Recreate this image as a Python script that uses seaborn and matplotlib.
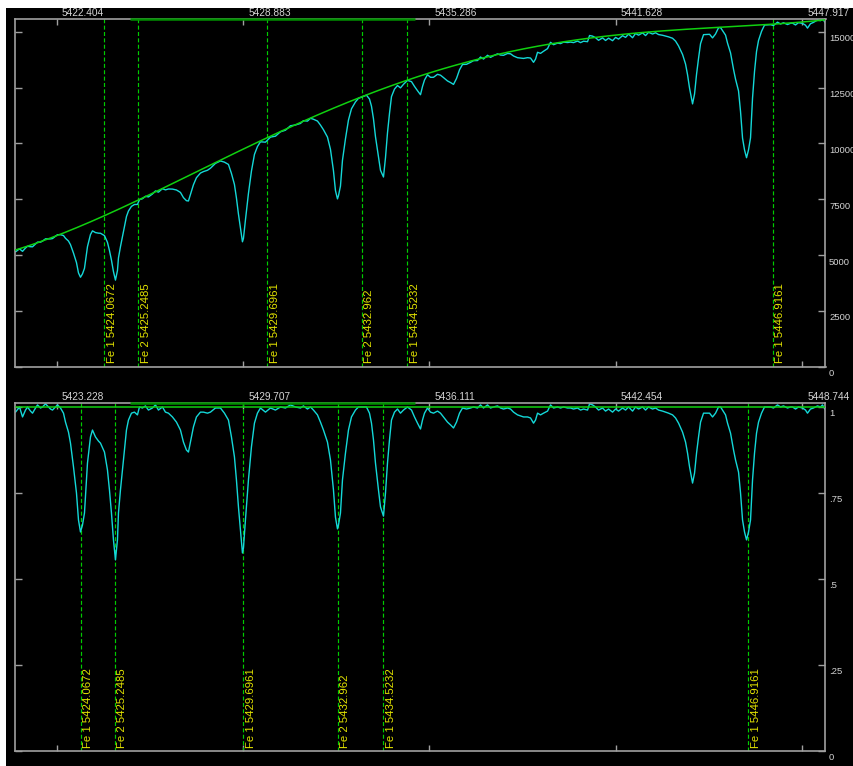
import numpy as np
import pandas as pd
import matplotlib
matplotlib.use("Agg")
import matplotlib.pyplot as plt
import matplotlib.transforms as mtransforms
from matplotlib.patches import Rectangle
from matplotlib.ticker import NullLocator
import seaborn as sns

# ---------------------------------------------------------------- data
# wavelength labels at equally spaced detector columns (dispersion solution)
tick_pixels = [56, 243, 429, 615, 802]
tick_labels_obs = ["5422.404", "5428.883", "5435.286", "5441.628", "5447.917"]
tick_labels_rv = ["5423.228", "5429.707", "5436.111", "5442.454", "5448.744"]

# spectrum: detector column and continuum-normalised flux
pixels = [
    15, 19, 22, 25, 27, 30, 32, 35, 37, 40, 42, 45, 47, 50, 52, 55, 57, 60, 63, 65,
    68, 70, 73, 76, 78, 80, 82, 84, 87, 90, 92, 95, 98, 100, 104, 107, 109, 111, 113, 115,
    117, 118, 120, 123, 126, 128, 131, 134, 137, 139, 142, 145, 148, 152, 155, 158, 162, 165, 168, 172,
    176, 180, 183, 186, 188, 190, 193, 196, 200, 203, 207, 210, 215, 220, 224, 228, 231, 234, 236, 238,
    240, 242, 243, 245, 248, 251, 254, 257, 260, 265, 270, 275, 280, 285, 290, 295, 300, 303, 307, 310,
    313, 317, 320, 323, 327, 330, 333, 335, 337, 338, 340, 342, 345, 348, 351, 355, 358, 362, 366, 369,
    371, 373, 375, 378, 380, 383, 385, 387, 389, 391, 394, 397, 400, 403, 407, 411, 414, 417, 420, 422,
    424, 427, 430, 433, 437, 440, 443, 447, 450, 453, 456, 459, 462, 466, 470, 473, 477, 480, 483, 487,
    490, 493, 497, 500, 503, 507, 510, 513, 517, 520, 523, 527, 530, 533, 535, 537, 540, 543, 547, 550,
    553, 557, 560, 563, 567, 570, 573, 577, 580, 583, 587, 589, 592, 595, 598, 602, 605, 608, 612, 615,
    618, 622, 625, 628, 632, 635, 638, 642, 645, 648, 652, 655, 658, 662, 665, 668, 672, 675, 678, 682,
    685, 687, 689, 691, 692, 694, 696, 698, 700, 703, 706, 709, 712, 715, 718, 720, 722, 725, 727, 730,
    733, 735, 738, 740, 742, 744, 746, 748, 750, 752, 754, 756, 758, 761, 764, 767, 770, 773, 777, 780,
    783, 787, 790, 792, 795, 798, 802, 805, 807, 810, 813, 817, 820, 822, 825,
]
norm_flux = [
    0.984, 0.999, 0.970, 0.990, 0.999, 0.987, 0.981, 0.996, 1.005, 0.996, 0.999, 1.008, 1.002, 0.993, 0.990, 0.999, 1.005, 0.996, 0.981, 0.955,
    0.926, 0.894, 0.825, 0.749, 0.671, 0.636, 0.656, 0.691, 0.836, 0.912, 0.932, 0.912, 0.900, 0.894, 0.868, 0.816, 0.758, 0.691, 0.613, 0.555,
    0.613, 0.691, 0.758, 0.845, 0.932, 0.961, 0.981, 0.984, 0.976, 0.999, 0.996, 1.002, 0.990, 0.996, 1.005, 0.990, 0.999, 0.984, 0.981, 0.970,
    0.955, 0.932, 0.897, 0.874, 0.868, 0.897, 0.941, 0.970, 0.984, 0.984, 0.981, 0.984, 0.996, 0.996, 0.981, 0.961, 0.912, 0.854, 0.787, 0.709,
    0.642, 0.575, 0.589, 0.671, 0.787, 0.883, 0.952, 0.981, 0.996, 0.984, 0.996, 0.990, 0.999, 0.996, 1.005, 0.999, 0.996, 1.002, 0.993, 0.999,
    0.990, 0.976, 0.955, 0.932, 0.897, 0.845, 0.758, 0.679, 0.645, 0.656, 0.691, 0.787, 0.865, 0.932, 0.970, 0.990, 0.999, 0.999, 0.999, 0.981,
    0.952, 0.903, 0.836, 0.758, 0.709, 0.682, 0.749, 0.836, 0.903, 0.961, 0.984, 0.993, 0.981, 0.990, 0.999, 0.990, 0.970, 0.952, 0.935, 0.961,
    0.981, 0.996, 0.984, 0.981, 0.987, 0.981, 0.970, 0.955, 0.947, 0.938, 0.955, 0.981, 0.996, 0.993, 0.996, 0.999, 0.996, 1.005, 0.996, 1.005,
    0.996, 0.999, 1.002, 0.996, 0.993, 0.996, 0.993, 0.984, 0.976, 0.973, 0.970, 0.970, 0.967, 0.952, 0.961, 0.981, 0.976, 0.981, 0.987, 1.005,
    0.996, 0.999, 0.996, 0.999, 0.996, 0.996, 0.993, 0.996, 0.990, 0.993, 0.990, 1.008, 1.005, 0.999, 0.990, 0.996, 0.987, 0.993, 0.984, 0.993,
    0.987, 0.996, 0.990, 0.999, 0.987, 0.999, 0.993, 0.999, 0.990, 0.999, 0.993, 0.996, 0.990, 0.987, 0.984, 0.981, 0.976, 0.967, 0.952, 0.926,
    0.897, 0.865, 0.825, 0.793, 0.778, 0.807, 0.865, 0.912, 0.955, 0.981, 0.981, 0.981, 0.970, 0.981, 0.999, 0.999, 0.990, 0.976, 0.952, 0.923,
    0.874, 0.845, 0.810, 0.749, 0.671, 0.636, 0.613, 0.636, 0.671, 0.787, 0.865, 0.923, 0.955, 0.981, 0.999, 0.999, 0.999, 0.996, 1.005, 0.999,
    1.002, 0.996, 0.999, 0.999, 0.993, 0.999, 0.996, 0.990, 0.981, 0.993, 0.996, 1.002, 0.999, 1.005, 0.990,
]

# continuum level (counts) measured along the detector
cont_pixels = [15, 60, 104, 137, 200, 265, 313, 347, 380, 413, 447,
               480, 513, 547, 580, 627, 660, 693, 727, 760, 793, 825]
cont_counts = [5207, 5969, 6777, 7451, 8797, 10144, 11266, 11804, 12388, 12971, 13420,
               13869, 14183, 14408, 14587, 14856, 14991, 15171, 15260, 15350, 15440, 15485]

# identified lines
line_species = ["Fe 1", "Fe 2", "Fe 1", "Fe 2", "Fe 1", "Fe 1"]
line_wavelengths = ["5424.0672", "5425.2485", "5429.6961", "5432.962", "5434.5232", "5446.9161"]

# detector window marked along the top axis
window_pixels = [130, 415]

flux_ticks = [0, 2500, 5000, 7500, 10000, 12500, 15000]
flux_tick_labels = ["0", "2500", "5000", "7500", "10000", "12500", "15000"]
norm_ticks = [0, 0.25, 0.5, 0.75, 1.0]
norm_tick_labels = ["0", ".25", ".5", ".75", "1"]
flux_top = 15575
norm_top = 1.0105

# ---------------------------------------------------------------- style
W, H, DPI = 854, 766, 100
sns.set_style("dark", rc={"axes.facecolor": "black", "figure.facecolor": "white"})
plt.rcParams["font.family"] = ["Liberation Sans", "DejaVu Sans"]

SPINE = "#a0a0a0"
TICKTXT = "#d4d4d4"
CYAN = "#14d8d8"
GREEN = "#10d010"
MARK = "#00cc00"
YELLOW = "#e4e400"

pix = np.array(pixels, dtype=float)
norm = np.array(norm_flux)
cont_fit = np.polyfit(np.array(cont_pixels) / 1000.0, cont_counts, 4)
continuum = np.polyval(cont_fit, pix / 1000.0)
counts = norm * continuum


def dispersion(labels):
    lam = np.array([float(s) for s in labels])
    p2l = np.polyfit(tick_pixels, lam, 2)
    l2p = np.polyfit(lam, tick_pixels, 2)
    return lam, (lambda x: np.polyval(l2p, x)), (lambda p: np.polyval(p2l, p))


fig = plt.figure(figsize=(W / DPI, H / DPI), dpi=DPI)
fig.patches.append(Rectangle((6 / W, 0), 1 - 6 / W, 1 - 8 / H, transform=fig.transFigure,
                             facecolor="black", edgecolor="none", zorder=-5))

ax_top = fig.add_axes([15.5 / W, 1 - 366.7 / H, 810 / W, 347.7 / H])
ax_bot = fig.add_axes([15.5 / W, 1 - 751 / H, 810 / W, 348 / H])


def offset(dx, dy):
    return mtransforms.ScaledTranslation(dx / DPI, dy / DPI, fig.dpi_scale_trans)


def panel(ax, labels, yvals, cont_vals, yticks, ylabels, ytop):
    lam_ticks, to_pix, to_lam = dispersion(labels)
    ax.set_xscale("function", functions=(to_pix, to_lam))
    wl = to_lam(pix)
    df = pd.DataFrame({"wavelength": wl, "flux": yvals, "continuum": cont_vals})

    for w in line_wavelengths:
        ax.axvline(float(w), color=MARK, lw=0.85, linestyle=(0, (3.4, 2.0)), zorder=1)

    sns.lineplot(data=df, x="wavelength", y="flux", ax=ax, color=CYAN, lw=1.0,
                 estimator=None, sort=False, zorder=2)
    sns.lineplot(data=df, x="wavelength", y="continuum", ax=ax, color=GREEN, lw=1.1,
                 estimator=None, sort=False, zorder=3)

    ax.set_xlim(wl[0], wl[-1])
    ax.set_ylim(0, ytop)
    ax.set_xlabel("")
    ax.set_ylabel("")
    ax.grid(False)

    for sp in ax.spines.values():
        sp.set_visible(True)
        sp.set_color(SPINE)
        sp.set_linewidth(1.2)

    # window marker on the top spine
    blend = mtransforms.blended_transform_factory(ax.transData, ax.transAxes)
    ax.plot(to_lam(np.array(window_pixels, dtype=float)), [1, 1], transform=blend,
            color="#009000", lw=1.8, clip_on=False, zorder=6, solid_capstyle="butt")

    ax.set_xticks(lam_ticks)
    ax.set_xticklabels(labels)
    ax.xaxis.set_minor_locator(NullLocator())
    ax.set_yticks(yticks)
    ax.set_yticklabels(ylabels)
    ax.tick_params(axis="x", which="major", direction="in", length=4, width=1, color=SPINE,
                   top=True, bottom=True, labeltop=True, labelbottom=False, pad=0.5,
                   labelcolor=TICKTXT, labelsize=7.3)
    ax.tick_params(axis="y", which="major", direction="in", length=5, width=1, color=SPINE,
                   left=True, right=True, labelleft=False, labelright=True, pad=2.6,
                   labelcolor=TICKTXT, labelsize=6.8)
    for t in ax.xaxis.get_major_ticks():
        t.label2.set_horizontalalignment("left")
        t.label2.set_transform(t.label2.get_transform() + offset(5, 0))
    for t in ax.yaxis.get_major_ticks():
        t.label2.set_transform(t.label2.get_transform() + offset(0, -6))

    for sp, w in zip(line_species, line_wavelengths):
        ax.annotate(f"{sp} {w}", xy=(float(w), 0), xycoords=blend, xytext=(2.0, 2.5),
                    textcoords="offset points", rotation=90, ha="left", va="bottom",
                    color=YELLOW, fontsize=8.2, zorder=7)


panel(ax_top, tick_labels_obs, counts, continuum, flux_ticks, flux_tick_labels, flux_top)
panel(ax_bot, tick_labels_rv, norm, np.ones_like(norm), norm_ticks, norm_tick_labels, norm_top)

fig.savefig("out.png", dpi=DPI, facecolor="white")
